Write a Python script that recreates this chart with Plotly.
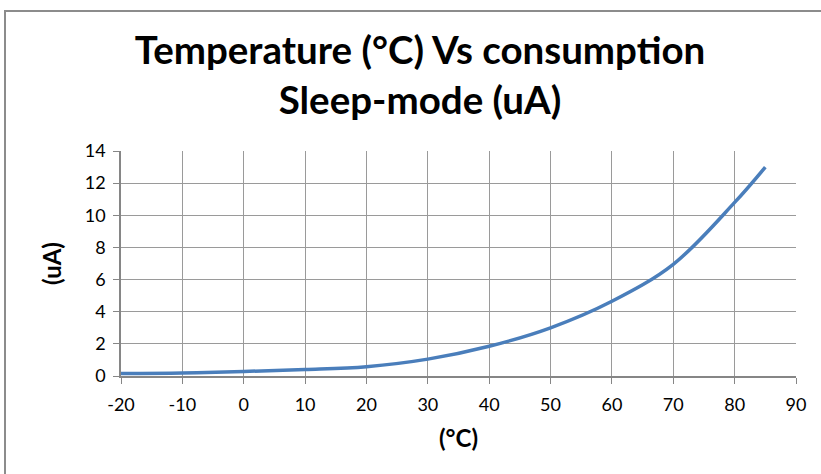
import plotly.graph_objects as go

temps = [-20, -10, 0, 10, 20, 30, 40, 50, 60, 70, 80, 85]
current_ua = [0.15, 0.18, 0.28, 0.40, 0.58, 1.05, 1.85, 3.0, 4.65, 6.95, 10.8, 13.0]
x_ticks = [-20, -10, 0, 10, 20, 30, 40, 50, 60, 70, 80, 90]
y_ticks = [0, 2, 4, 6, 8, 10, 12, 14]

W, H = 821, 474
ml, mr, mt, mb = 121, 25, 151, 98
pw, ph = W - ml - mr, H - mt - mb

fig = go.Figure()
fig.add_trace(go.Scatter(
    x=temps, y=current_ua, mode="lines",
    line=dict(color="#4A7EBB", width=3.5, shape="spline", smoothing=1.0),
    showlegend=False, hoverinfo="x+y"))

font = "Lato, 'Liberation Sans', Arial, sans-serif"
grid = "#9a9a9a"
fig.update_layout(
    width=W, height=H,
    margin=dict(l=ml, r=mr, t=mt, b=mb),
    paper_bgcolor="white", plot_bgcolor="white",
    font=dict(family=font, color="black", size=18),
    title=dict(text="<b>Temperature (°C) Vs consumption<br>Sleep-mode (uA)</b>",
               x=420 / W, xanchor="center", xref="container",
               y=1 - 64 / H, yanchor="middle", yref="container",
               font=dict(size=38.5, family=font, color="black")),
    xaxis=dict(range=[-20, 90], tickvals=x_ticks, ticktext=[str(v) for v in x_ticks],
               showgrid=True, gridcolor=grid, gridwidth=1,
               showline=True, linecolor="#868686", linewidth=1.5,
               ticks="outside", ticklen=6, tickcolor="#868686",
               ticklabelstandoff=6,
               zeroline=False, tickfont=dict(size=18),
               title=dict(text="<b>(°C)</b>", font=dict(size=24), standoff=16)),
    yaxis=dict(range=[0, 14], tickvals=y_ticks, ticktext=[str(v) for v in y_ticks],
               showgrid=True, gridcolor=grid, gridwidth=1,
               showline=True, linecolor="#868686", linewidth=1.5,
               ticks="outside", ticklen=6, tickcolor="#868686",
               ticklabelstandoff=4,
               zeroline=False, tickfont=dict(size=18),
               title=dict(text="<b>(uA)</b>", font=dict(size=24), standoff=16)),
    shapes=[dict(type="rect", xref="paper", yref="paper",
                 x0=(5 - ml) / pw, x1=(W + 20 - ml) / pw,
                 y0=(H - mb - (H + 20)) / ph, y1=(H - mb - 11) / ph,
                 line=dict(color="#8c8c8c", width=2), fillcolor="rgba(0,0,0,0)",
                 layer="below")],
)
fig.write_html("out.html", config={"displayModeBar": False},
               post_script="document.body.style.margin='0';")
